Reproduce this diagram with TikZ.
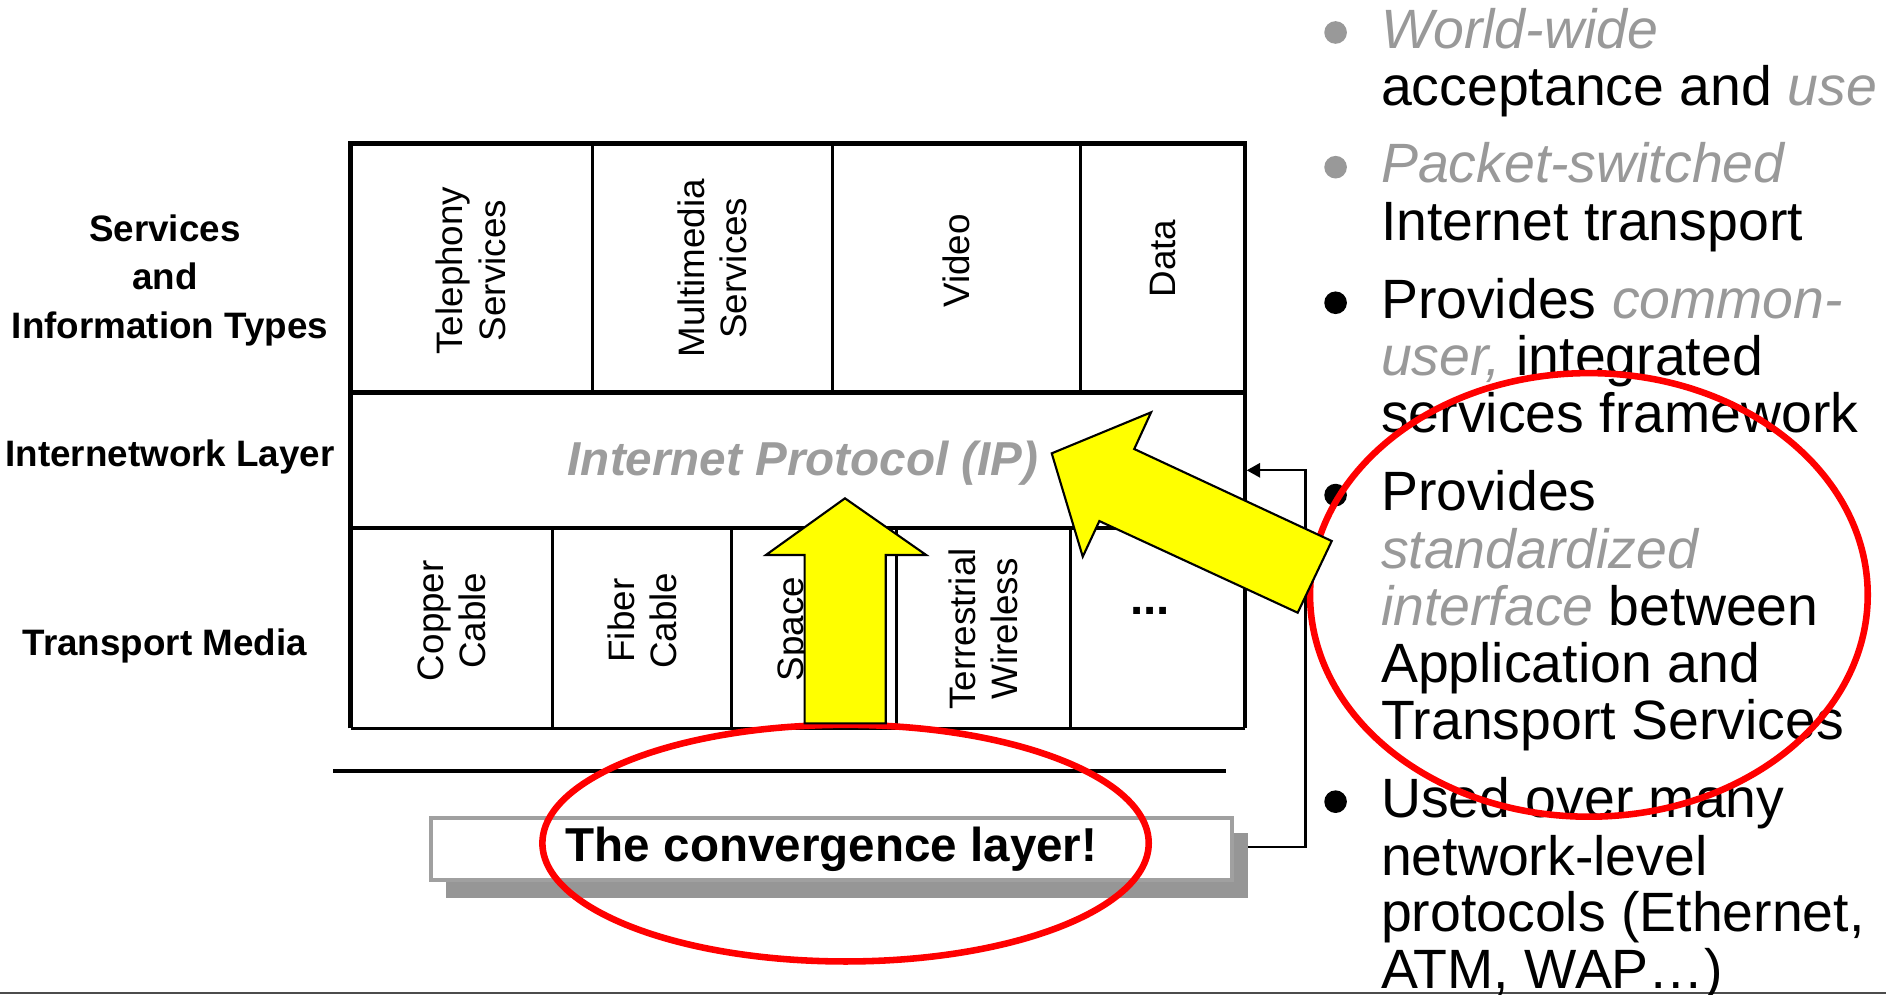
\documentclass[tikz,border=0pt]{standalone}
\usepackage{fontspec}
\setmainfont{Liberation Sans}
\usetikzlibrary{arrows.meta}
\definecolor{txtgray}{HTML}{999999}
\definecolor{ipgray}{HTML}{9C9C9C}
\definecolor{shadowgray}{HTML}{969696}
\definecolor{boxgray}{HTML}{A0A0A0}
\definecolor{ringred}{HTML}{FF0000}
\definecolor{arrowyellow}{HTML}{FFFF00}
\newcommand{\grayit}[1]{\textcolor{txtgray}{\itshape #1}}
\begin{document}
\begin{tikzpicture}[x=0.01cm,y=-0.01cm,
  thickrule/.style={line width=1.1pt, line join=miter},
  thinrule/.style={line width=0.65pt},
  celltxt/.style={rotate=90, align=center, inner sep=0pt, font=\fontsize{8.7}{9.96}\selectfont},
  sidelabel/.style={anchor=base, inner sep=0pt, font=\bfseries\fontsize{8.7}{10}\selectfont},
  bodyline/.style={anchor=base west, inner sep=0pt, font=\fontsize{13.1}{13.5}\selectfont},
  bigbold/.style={inner sep=0pt, font=\bfseries\fontsize{11.25}{12}\selectfont},
  graydot/.style={circle, fill=txtgray, inner sep=0pt, minimum size=0.188cm},
  blackdot/.style={circle, fill=black, inner sep=0pt, minimum size=0.188cm},
  convbox/.style={draw=boxgray, line width=0.95pt, fill=white, minimum width=6.65cm, minimum height=0.512cm, inner sep=0pt, font=\bfseries\fontsize{11.25}{12}\selectfont},
  conn/.style={line width=0.55pt, -{Triangle[length=3.2pt, width=3.4pt]}},
  ring/.style={draw=ringred, line width=1.55pt},
  bigarrow/.style={fill=arrowyellow, draw=black, line width=0.5pt, line join=miter}
]
\useasboundingbox (0,0) rectangle (1568,827);
\fill[white] (0,0) rectangle (1568,827);

% ---- layer table ----
\draw[thickrule] (291.6,605.5) -- (291.6,119.2) -- (1035,119.2) -- (1035,605.5);
\draw[thickrule] (291.6,326.5) -- (1035,326.5);
\draw[thickrule] (291.6,439) -- (1035,439);
\draw[line width=0.6pt] (291.6,605.5) -- (1035,605.5);
\foreach \xx in {492.4,692,898.2} \draw[thinrule] (\xx,119.2) -- (\xx,326.5);
\foreach \xx in {459.3,608.2,745.3,889.8} \draw[thinrule] (\xx,439) -- (\xx,605.5);

% top row texts
\node[celltxt] (tel) at (391.5,225) {Telephony\\Services};
\node[celltxt] (mm) at (592.2,223) {Multimedia\\Services};
\node[celltxt] (vid) at (795,217) {Video};
\node[celltxt] (dat) at (966.6,215) {Data};

% middle row
\node[bigbold, text=ipgray, anchor=base] (ip) at (667.6,395) {\itshape Internet Protocol (IP)};
\coordinate (ipR) at (1036.5,391);

% bottom row texts
\node[celltxt] (cop) at (375.5,516) {Copper\\Cable};
\node[celltxt] (fib) at (533.7,516) {Fiber\\Cable};
\node[celltxt, anchor=base] (spc) at (668,523) {Space};
\node[celltxt] (ter) at (817.5,523) {Terrestrial\\Wireless};
\node[bigbold, anchor=base] (dots) at (956,511.3) {...};

% side labels
\node[sidelabel] (s1) at (137,201) {Services};
\node[sidelabel] (s2) at (137,241) {and};
\node[sidelabel] (s3) at (141.3,281.3) {Information Types};
\node[sidelabel] (s4) at (141.4,388) {Internetwork Layer};
\node[sidelabel] (s5) at (137,544.6) {Transport Media};

% separator rule
\draw[line width=1.0pt] (276.9,641) -- (1019,641);

% connector
\coordinate (cc) at (1085.5,391);
\fill[shadowgray] (370.8,692.8) rectangle (1037.9,746.9);
\node[convbox] (conv) at (691.4,706) {The convergence layer!};
\draw[conn] (1037.9,704) -| (cc) -- (ipR);

% bottom rule
\draw[line width=0.5pt, gray!60!black] (0,825.6) -- (1568,825.6);

% ---- bullet list ----
\node[graydot] (d1) at (1110.4,27) {};
\node[bodyline] (l1a) at (1147.5,40) {\grayit{World-wide}};
\node[bodyline] (l1b) at (1147.5,88) {acceptance and \grayit{use}};
\node[graydot] (d2) at (1110.4,139) {};
\node[bodyline] (l2a) at (1147.5,152) {\grayit{Packet-switched}};
\node[bodyline] (l2b) at (1147.5,200) {Internet transport};
\node[blackdot] (d3) at (1110.4,251.7) {};
\node[bodyline] (l3a) at (1147.5,264.7) {Provides \grayit{common-}};
\node[bodyline] (l3b) at (1147.5,311.8) {\grayit{user,} integrated};
\node[bodyline] (l3c) at (1147.5,359.7) {services framework};
\node[blackdot] (d4) at (1110.4,411.6) {};
\node[bodyline] (l4a) at (1147.5,424.6) {Provides};
\node[bodyline] (l4b) at (1147.5,472.5) {\grayit{standardized}};
\node[bodyline] (l4c) at (1147.5,520.2) {\grayit{interface} between};
\node[bodyline] (l4d) at (1147.5,567.3) {Application and};
\node[bodyline] (l4e) at (1147.5,615.2) {Transport Services};
\node[blackdot] (d5) at (1110.4,666.5) {};
\node[bodyline] (l5a) at (1147.5,679.5) {Used over many};
\node[bodyline] (l5b) at (1147.5,727.5) {network-level};
\node[bodyline] (l5c) at (1147.5,774.6) {protocols (Ethernet,};
\node[bodyline] (l5d) at (1147.5,821.7) {ATM, WAP…)};

% ---- red rings ----
\draw[ring] (703,701) ellipse [x radius=2.519cm, y radius=0.983cm];
\draw[ring] (1321,494.6) ellipse [x radius=2.317cm, y radius=1.843cm];

% ---- yellow arrows ----
\draw[bigarrow] (702.5,414.3) -- (770,461.4) -- (736.4,461.4) -- (736.4,601.4)
  -- (668.9,601.4) -- (668.9,461.4) -- (636.8,461.4) -- cycle;
\draw[bigarrow] (874.4,376.9) -- (957,342.8) -- (943,373.3) -- (1107.2,449.8)
  -- (1078.9,509.4) -- (914,433.2) -- (900.2,462.8) -- cycle;
\end{tikzpicture}
\end{document}
